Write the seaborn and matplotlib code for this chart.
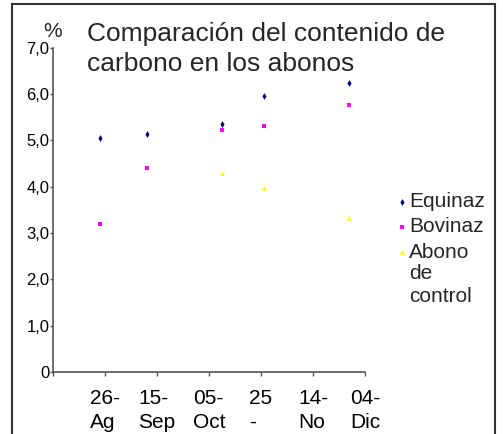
import matplotlib
matplotlib.use("Agg")
import matplotlib.pyplot as plt
import matplotlib.patches as mpatches
import seaborn as sns
import pandas as pd
import numpy as np

# ---- data ----
fechas = ["2007-08-24", "2007-09-11", "2007-10-10", "2007-10-26", "2007-11-28"]
equinaz = [5.05, 5.13, 5.35, 5.96, 6.23]
bovinaz = [3.20, 4.40, 5.22, 5.32, 5.76]
abono_control = [np.nan, np.nan, 4.30, 3.98, 3.32]
series = ["Equinaz", "Bovinaz", "Abono"]
series_extra = "de\ncontrol"
tick_fechas = ["2007-08-06", "2007-08-26", "2007-09-15", "2007-10-05",
               "2007-10-25", "2007-11-14", "2007-12-04"]
tick_labels = ["", "26-\nAg", "15-\nSep", "05-\nOct", "25\n-", "14-\nNo", "04-\nDic"]
y_ticks = [0, 1, 2, 3, 4, 5, 6, 7]
y_tick_labels = ["0", "1,0", "2,0", "3,0", "4,0", "5,0", "6,0", "7,0"]
titulo = "Comparación del contenido de\ncarbono en los abonos"

sns.set_theme(style="white")
plt.rcParams["font.family"] = ["Liberation Sans", "DejaVu Sans"]

W, H = 503, 434
fig = plt.figure(figsize=(W / 100, H / 100), dpi=100)
ax = fig.add_axes([53 / W, 1 - 372 / H, (365 - 53) / W, (372 - 47.7) / H])

x = pd.to_datetime(fechas)
colors = ["#000080", "#FF00FF", "#FFFF00"]
markers = ["d", "s", "^"]
sizes = [12, 8, 12]
for vals, name, c, m, s in zip([equinaz, bovinaz, abono_control], series, colors, markers, sizes):
    df = pd.DataFrame({"fecha": x, "valor": vals}).dropna()
    sns.scatterplot(data=df, x="fecha", y="valor", ax=ax, color=c, marker=m, s=s,
                    linewidth=0, label=name)

ax.set_xlim(pd.Timestamp(tick_fechas[0]), pd.Timestamp(tick_fechas[-1]))
ax.set_ylim(0, 7)
ax.set_xticks(pd.to_datetime(tick_fechas))
ax.set_xticklabels(tick_labels, fontsize=15, multialignment="left", linespacing=1.35)
ax.set_yticks(y_ticks)
ax.set_yticklabels(y_tick_labels, fontsize=12)
ax.set_xlabel("")
ax.set_ylabel("")
for sp in ["top", "right"]:
    ax.spines[sp].set_visible(False)
for sp in ["left", "bottom"]:
    ax.spines[sp].set_color("#555555")
    ax.spines[sp].set_linewidth(1.2)
ax.tick_params(axis="x", which="major", direction="out", length=3, width=1, color="#555555",
               bottom=True, pad=9, labelcolor="black")
ax.tick_params(axis="y", which="major", direction="out", length=2.5, width=1, color="#555555",
               left=True, pad=0, labelcolor="black")

h, l = ax.get_legend_handles_labels()
ax.get_legend().remove()
fig.legend(h, l, loc="upper left", bbox_to_anchor=(399 / W, 1 - 192 / H),
           frameon=False, fontsize=15, handlelength=0.3, handletextpad=0.2,
           labelspacing=0.3, borderpad=0, borderaxespad=0, markerscale=1.0)
fig.text(409 / W, 1 - 264 / H, series_extra, fontsize=15, va="top", ha="left", linespacing=1.3)

fig.text(87 / W, 1 - 22 / H, titulo, fontsize=19, va="top", ha="left", linespacing=1.3)
fig.text(43 / W, 1 - 22 / H, "%", fontsize=15, va="top", ha="left")

frame = mpatches.Rectangle((12 / W, -0.1), (495 - 12) / W, 1.1 - 4 / H,
                           transform=fig.transFigure, fill=False,
                           edgecolor="#333333", linewidth=1.5)
fig.patches.append(frame)

fig.savefig("out.png", dpi=100)
